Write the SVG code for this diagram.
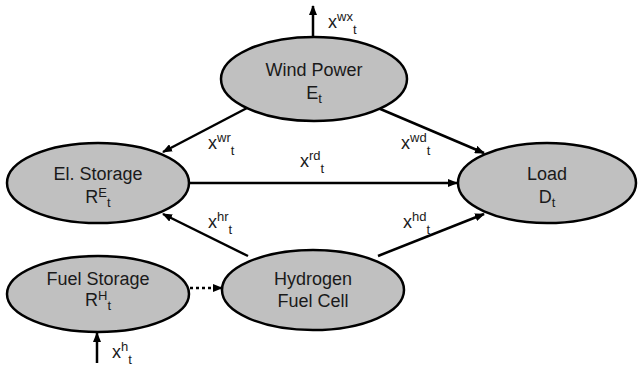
<svg xmlns="http://www.w3.org/2000/svg" width="638" height="369" viewBox="0 0 638 369">
<style>
.node{fill:#c0c0c0;stroke:#000;stroke-width:2.5}
.t{font-family:"Liberation Sans",Arial,sans-serif;font-size:18px;fill:#1a1a1a;text-anchor:middle}
.l{font-family:"Liberation Sans",Arial,sans-serif;font-size:18px;fill:#1a1a1a}
.s{font-size:13px}
.c{stroke:#000;stroke-width:2.5;fill:none}
</style>
<defs>
<marker id="ah" markerWidth="10" markerHeight="8" refX="9" refY="4" orient="auto" markerUnits="userSpaceOnUse">
<path d="M0,0 L10,4 L0,8 Z" fill="#000"/>
</marker>
</defs>
<g id="connectors">
<line class="c" x1="313" y1="37" x2="313" y2="6" marker-end="url(#ah)"/>
<line class="c" x1="247" y1="108" x2="163" y2="152" marker-end="url(#ah)"/>
<line class="c" x1="378" y1="108" x2="484" y2="153" marker-end="url(#ah)"/>
<line class="c" x1="190" y1="183" x2="457" y2="183" marker-end="url(#ah)"/>
<line class="c" x1="248" y1="256" x2="163" y2="214" marker-end="url(#ah)"/>
<line class="c" x1="378" y1="256" x2="484" y2="214" marker-end="url(#ah)"/>
<line class="c" x1="190" y1="288" x2="222" y2="288" stroke-dasharray="3,3" marker-end="url(#ah)"/>
<line class="c" x1="97" y1="363" x2="97" y2="333" marker-end="url(#ah)"/>
<text class="l" x="328" y="28">x<tspan class="s" dy="-7">wx</tspan><tspan class="s" dy="13">t</tspan></text>
<text class="l" x="208" y="149">x<tspan class="s" dy="-7">wr</tspan><tspan class="s" dy="13">t</tspan></text>
<text class="l" x="401" y="149">x<tspan class="s" dy="-7">wd</tspan><tspan class="s" dy="13">t</tspan></text>
<text class="l" x="300" y="167">x<tspan class="s" dy="-7">rd</tspan><tspan class="s" dy="13">t</tspan></text>
<text class="l" x="208" y="228">x<tspan class="s" dy="-7">hr</tspan><tspan class="s" dy="13">t</tspan></text>
<text class="l" x="403" y="228">x<tspan class="s" dy="-7">hd</tspan><tspan class="s" dy="13">t</tspan></text>
<text class="l" x="112" y="358">x<tspan class="s" dy="-7">h</tspan><tspan class="s" dy="13">t</tspan></text>
</g>
<g id="wind">
<ellipse class="node" cx="314" cy="79" rx="93" ry="42"/>
<text class="t" x="314" y="76">Wind Power</text>
<text class="t" x="314" y="99">E<tspan class="s" dy="4">t</tspan></text>
</g>
<g id="elstorage">
<ellipse class="node" cx="98" cy="183" rx="91" ry="40"/>
<text class="t" x="98" y="180">El. Storage</text>
<text class="t" x="98" y="203">R<tspan class="s" dy="-6">E</tspan><tspan class="s" dy="10">t</tspan></text>
</g>
<g id="load">
<ellipse class="node" cx="547" cy="183" rx="89" ry="40"/>
<text class="t" x="547" y="180">Load</text>
<text class="t" x="547" y="203">D<tspan class="s" dy="4">t</tspan></text>
</g>
<g id="fuelstorage">
<ellipse class="node" cx="98" cy="294" rx="91" ry="38"/>
<text class="t" x="98" y="285">Fuel Storage</text>
<text class="t" x="98" y="306">R<tspan class="s" dy="-6">H</tspan><tspan class="s" dy="10">t</tspan></text>
</g>
<g id="hydrogen">
<ellipse class="node" cx="313" cy="290" rx="91" ry="40"/>
<text class="t" x="313" y="285">Hydrogen</text>
<text class="t" x="313" y="307">Fuel Cell</text>
</g>
</svg>
